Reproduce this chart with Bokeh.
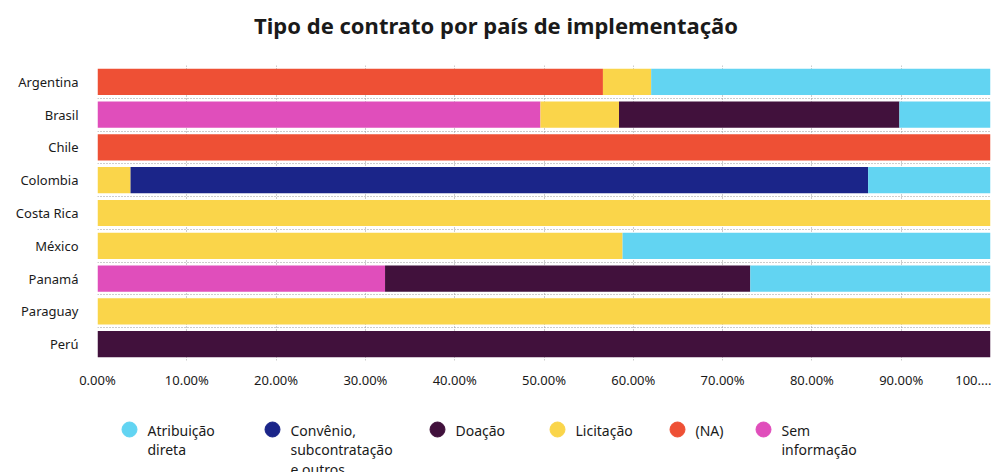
from bokeh.plotting import figure
from bokeh.layouts import column
from bokeh.models import Range1d, FixedTicker, ColumnDataSource
from bokeh.core.properties import value
from bokeh.embed import file_html
from bokeh.resources import INLINE

# ---- data ----
title_text = "Tipo de contrato por país de implementação"
countries = ["Argentina", "Brasil", "Chile", "Colombia", "Costa Rica",
             "México", "Panamá", "Paraguay", "Perú"]
na_vals   = [56.6, 0.0, 100.0, 0.0, 0.0, 0.0, 0.0, 0.0, 0.0]
sem_vals  = [0.0, 49.6, 0.0, 0.0, 0.0, 0.0, 32.2, 0.0, 0.0]
lic_vals  = [5.4, 8.8, 0.0, 3.7, 100.0, 58.8, 0.0, 100.0, 0.0]
conv_vals = [0.0, 0.0, 0.0, 82.6, 0.0, 0.0, 0.0, 0.0, 0.0]
doa_vals  = [0.0, 31.4, 0.0, 0.0, 0.0, 0.0, 40.9, 0.0, 100.0]
atr_vals  = [38.0, 10.2, 0.0, 13.7, 0.0, 41.2, 26.9, 0.0, 0.0]

x_ticks = [0, 10, 20, 30, 40, 50, 60, 70, 80, 90, 100]
x_tick_labels = ["0.00%", "10.00%", "20.00%", "30.00%", "40.00%", "50.00%",
                 "60.00%", "70.00%", "80.00%", "90.00%", "100...."]

series_keys   = ["na", "sem", "lic", "conv", "doa", "atr"]
series_colors = ["#EE5035", "#E04EBB", "#FAD54A", "#1B2589", "#41113C", "#62D4F2"]

legend_order  = ["atr", "conv", "doa", "lic", "na", "sem"]
legend_labels = ["Atribuição\ndireta", "Convênio,\nsubcontratação\ne outros",
                 "Doação", "Licitação", "(NA)", "Sem\ninformação"]

# layout (page pixel positions)
legend_x = [129, 272, 437, 557, 677, 763]
FRAME_L, FRAME_R = 97, 990

FONT = "Noto Sans"
TXT = "#1a1a1a"
W, H_TITLE, H_MAIN, H_LEG = 991, 48, 347, 77


def strip(height):
    f = figure(width=W, height=height, output_backend="svg", toolbar_location=None,
               x_range=Range1d(FRAME_L, FRAME_R), y_range=Range1d(height, 0),
               x_axis_location=None, y_axis_location=None, title=None,
               min_border=0, min_border_left=0, min_border_right=0,
               min_border_top=0, min_border_bottom=0)
    f.grid.visible = False
    f.outline_line_color = None
    return f


# ---- title strip ----
tf = strip(H_TITLE)
tf.text(x=[W / 2], y=[24], text=[title_text], text_font=value(FONT),
        text_font_size="22px", text_font_style="bold", text_color=TXT,
        text_align="center", text_baseline="middle")

# ---- main chart ----
ypos = list(range(len(countries)))
source = ColumnDataSource(dict(y=ypos, na=na_vals, sem=sem_vals, lic=lic_vals,
                               conv=conv_vals, doa=doa_vals, atr=atr_vals))

p = figure(width=W, height=H_MAIN, output_backend="svg", toolbar_location=None,
           title=None,
           x_range=Range1d(0, 100), y_range=Range1d(len(countries) - 0.5, -0.5),
           min_border_left=FRAME_L, min_border_right=W - FRAME_R,
           min_border_top=17, min_border_bottom=35)

p.outline_line_color = None
p.background_fill_color = "white"

p.xgrid.ticker = FixedTicker(ticks=x_ticks)
p.ygrid.ticker = FixedTicker(ticks=[i - 0.5 for i in range(len(countries) + 1)])
for g in (p.xgrid, p.ygrid):
    g.grid_line_color = "#9a9a9a"
    g.grid_line_dash = "1 2"
    g.grid_line_width = 1

p.hbar_stack(series_keys, y="y", height=0.8, color=series_colors,
             line_color=None, source=source)

p.xaxis.ticker = FixedTicker(ticks=x_ticks)
p.xaxis.major_label_overrides = {t: l for t, l in zip(x_ticks, x_tick_labels)}
p.yaxis.ticker = FixedTicker(ticks=ypos)
p.yaxis.major_label_overrides = {i: c for i, c in zip(ypos, countries)}
for ax in (p.xaxis, p.yaxis):
    ax.axis_line_color = None
    ax.major_tick_line_color = None
    ax.minor_tick_line_color = None
    ax.major_tick_out = 0
    ax.major_tick_in = 0
    ax.minor_tick_out = 0
    ax.major_label_text_font = FONT
    ax.major_label_text_font_size = "13px"
    ax.major_label_text_color = TXT
p.xaxis.major_label_standoff = 10
p.yaxis.major_label_standoff = 19

# ---- legend strip ----
leg = strip(H_LEG)
color_of = dict(zip(series_keys, series_colors))
leg_src = ColumnDataSource(dict(
    x=legend_x,
    y=[34] * len(legend_x),
    tx=[x + 18 for x in legend_x],
    ty=[25] * len(legend_x),
    color=[color_of[k] for k in legend_order],
    label=legend_labels,
))
leg.scatter(x="x", y="y", marker="circle", size=15, fill_color="color",
            line_color="color", source=leg_src)
leg.text(x="tx", y="ty", text="label", source=leg_src,
         text_font=value(FONT), text_font_size="14px", text_color=TXT,
         text_baseline="top", text_align="left", text_line_height=1.05)

open("out.html", "w").write(file_html(column(tf, p, leg, spacing=0), INLINE))
